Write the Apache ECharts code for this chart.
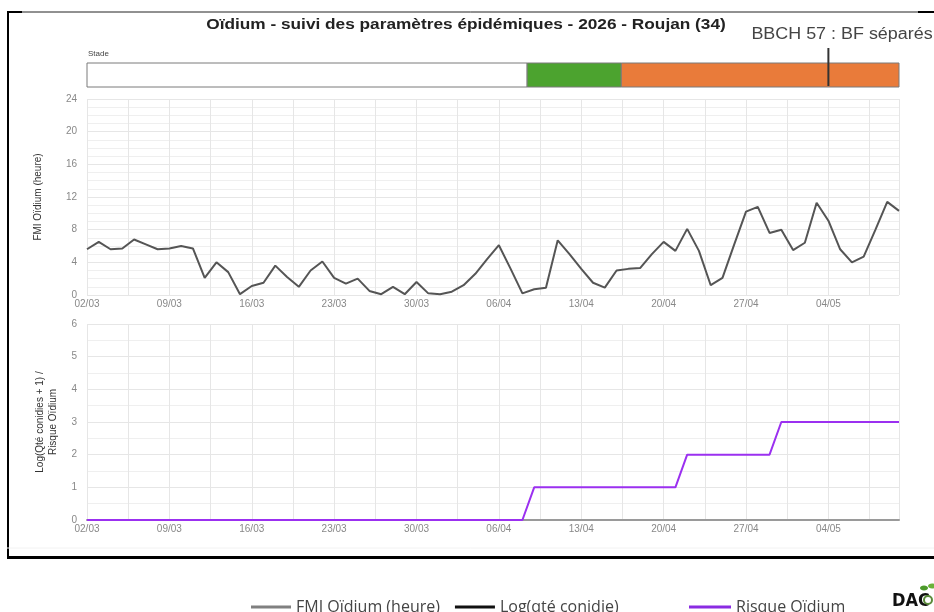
<!DOCTYPE html>
<html>
<head>
<meta charset="utf-8">
<script src="https://cdn.jsdelivr.net/npm/echarts@6/dist/echarts.min.js"></script>
<style>
  html, body { margin: 0; padding: 0; background: #fff; }
  #chart { width: 934px; height: 612px; }
</style>
</head>
<body>
<div id="chart"></div>
<script>
// ------------------------------ data ------------------------------
var firstDay = new Date(2026, 2, 2);
var nbDays = 70;
var dates = [];
for (var i = 0; i < nbDays; i++) {
    var d = new Date(firstDay.getFullYear(), firstDay.getMonth(), firstDay.getDate() + i);
    dates.push(('0' + d.getDate()).slice(-2) + '/' + ('0' + (d.getMonth() + 1)).slice(-2));
}

// FMI Oïdium (heure), one value per day from 02/03
var fmi = [5.6, 6.5, 5.6, 5.7, 6.8, 6.2, 5.6, 5.7, 6.0, 5.7,
           2.1, 4.0, 2.8, 0.1, 1.1, 1.5, 3.6, 2.2, 1.0, 3.0,
           4.1, 2.1, 1.4, 2.0, 0.5, 0.1, 1.0, 0.1, 1.6, 0.2,
           0.1, 0.4, 1.2, 2.6, 4.4, 6.1, 3.2, 0.2, 0.7, 0.9,
           6.7, 5.0, 3.2, 1.5, 0.9, 3.0, 3.2, 3.3, 5.0, 6.5,
           5.4, 8.1, 5.4, 1.2, 2.1, 6.2, 10.2, 10.8, 7.6, 8.0,
           5.5, 6.4, 11.3, 9.1, 5.6, 4.0, 4.7, 8.0, 11.4, 10.3];

// Log(qté conidie) : nothing drawn on the reference
var conidies = [];

// Risque Oïdium
var risque = [0, 0, 0, 0, 0, 0, 0, 0, 0, 0,
              0, 0, 0, 0, 0, 0, 0, 0, 0, 0,
              0, 0, 0, 0, 0, 0, 0, 0, 0, 0,
              0, 0, 0, 0, 0, 0, 0, 0, 1, 1,
              1, 1, 1, 1, 1, 1, 1, 1, 1, 1,
              1, 2, 2, 2, 2, 2, 2, 2, 2, 3,
              3, 3, 3, 3, 3, 3, 3, 3, 3, 3];

// stades phénologiques (en jours depuis 02/03)
var stadeDebut = [0, 37.4, 45.4];
var stadeFin = [37.4, 45.4, 69];
var stadeCouleur = ['#ffffff', '#4ca32f', '#e97b3a'];

// événements
var evtJour = [63];
var evtTexte = ['BBCH 57 : BF séparés'];

var fmiYTicks = [0, 24, 4];
var risqueYTicks = [0, 6, 1];

var titre = 'Oïdium - suivi des paramètres épidémiques - 2026 - Roujan (34)';

// ------------------------------ chart ------------------------------
var mychart = echarts.init(document.getElementById('chart'));
var font = 'Liberation Sans';

function xLabel(v) {
    return (v % 7 === 0 && dates[v]) ? dates[v] : '';
}

function xAxis(gridIndex, showLabels) {
    return {
        type: 'value', gridIndex: gridIndex, min: 0, max: nbDays - 1, interval: 3.5,
        axisLine: { show: gridIndex === 2, lineStyle: { color: '#9a9a9a', width: 2 } },
        axisTick: { show: false },
        axisLabel: { show: showLabels, formatter: xLabel, color: '#888', fontSize: 10, fontFamily: font, margin: 4, showMaxLabel: false },
        splitLine: { show: gridIndex !== 0, lineStyle: { color: '#e6e6e6' } }
    };
}

var legendText = { fontFamily: 'Open Sans', fontSize: 16, color: '#444' };

var option = {
    backgroundColor: '#fff',
    animation: false,
    legend: [{
        left: 246, top: 594, icon: 'rect', itemWidth: 40, itemHeight: 3, itemGap: 15,
        data: ['FMI Oïdium (heure)', 'Log(qté conidie)'],
        textStyle: legendText
    }, {
        left: 684, top: 594, icon: 'rect', itemWidth: 42, itemHeight: 3,
        data: ['Risque Oïdium'],
        textStyle: legendText
    }],
    grid: [
        { left: 87, right: 35, top: 63, height: 24 },
        { left: 87, right: 35, top: 99, height: 196 },
        { left: 87, right: 35, top: 324, height: 196 }
    ],
    xAxis: [xAxis(0, false), xAxis(1, true), xAxis(2, true)],
    yAxis: [
        { type: 'value', gridIndex: 0, min: 0, max: 1, show: false },
        {
            type: 'value', gridIndex: 1, min: fmiYTicks[0], max: fmiYTicks[1], interval: fmiYTicks[2],
            name: 'FMI Oïdium (heure)', nameLocation: 'middle', nameGap: 44,
            nameTextStyle: { fontFamily: font, fontSize: 10, color: '#333' },
            axisLine: { show: false }, axisTick: { show: false },
            axisLabel: { color: '#888', fontSize: 10, fontFamily: font, margin: 10 },
            splitLine: { lineStyle: { color: '#e6e6e6' } },
            minorTick: { show: false, splitNumber: 4 },
            minorSplitLine: { show: true, lineStyle: { color: '#efefef' } }
        },
        {
            type: 'value', gridIndex: 2, min: risqueYTicks[0], max: risqueYTicks[1], interval: risqueYTicks[2],
            name: 'Log(Qté conidies + 1) /\nRisque Oïdium', nameLocation: 'middle', nameGap: 27,
            nameTextStyle: { fontFamily: font, fontSize: 10, color: '#333', lineHeight: 13 },
            axisLine: { show: false }, axisTick: { show: false },
            axisLabel: { color: '#888', fontSize: 10, fontFamily: font, margin: 10 },
            splitLine: { lineStyle: { color: '#e6e6e6' } },
            minorTick: { show: false, splitNumber: 2 },
            minorSplitLine: { show: true, lineStyle: { color: '#efefef' } }
        }
    ],
    series: [
        {
            name: 'Stade', type: 'custom', xAxisIndex: 0, yAxisIndex: 0, silent: true,
            data: stadeDebut.map(function (s, i) { return [s, stadeFin[i], i]; }),
            renderItem: function (params, api) {
                var p0 = api.coord([api.value(0), 1]);
                var p1 = api.coord([api.value(1), 0]);
                return {
                    type: 'rect',
                    shape: { x: p0[0], y: p0[1], width: p1[0] - p0[0], height: p1[1] - p0[1] },
                    style: { fill: stadeCouleur[api.value(2)], stroke: '#7a7a7a', lineWidth: 1 }
                };
            }
        },
        {
            name: 'Evenement', type: 'custom', xAxisIndex: 0, yAxisIndex: 0, silent: true, z: 5,
            data: evtJour.map(function (j, i) { return [j, i]; }),
            renderItem: function (params, api) {
                var p = api.coord([api.value(0), 0]);
                return {
                    type: 'group',
                    children: [{
                        type: 'line',
                        shape: { x1: p[0], y1: p[1] - 1, x2: p[0], y2: p[1] - 39 },
                        style: { stroke: '#333', lineWidth: 2 }
                    }, {
                        type: 'text', x: p[0] - 77, y: p[1] - 52, scaleX: 1.12,
                        style: {
                            x: 0, y: 0, text: evtTexte[api.value(1)],
                            fill: '#444', font: '16px "Liberation Sans"', textVerticalAlign: 'middle'
                        }
                    }]
                };
            }
        },
        {
            name: 'FMI Oïdium (heure)', type: 'line', xAxisIndex: 1, yAxisIndex: 1,
            data: fmi.map(function (v, i) { return [i, v]; }),
            symbol: 'none', itemStyle: { color: '#808080' },
            lineStyle: { color: '#555', width: 2 }
        },
        {
            name: 'Log(qté conidie)', type: 'line', xAxisIndex: 2, yAxisIndex: 2,
            data: conidies, symbol: 'none', itemStyle: { color: '#111' },
            lineStyle: { color: '#111', width: 2 }
        },
        {
            name: 'Risque Oïdium', type: 'line', xAxisIndex: 2, yAxisIndex: 2,
            data: risque.map(function (v, i) { return [i, v]; }),
            symbol: 'none', itemStyle: { color: '#8a2be2' },
            lineStyle: { color: '#9b30f0', width: 2 }, z: 3
        }
    ],
    graphic: [
        // titre (texte un peu étiré comme sur l'original)
        { type: 'text', x: 466, y: 25, scaleX: 1.15,
          style: { x: 0, y: 0, text: titre, fill: '#222', font: 'bold 15px "Liberation Sans"', textAlign: 'center', textVerticalAlign: 'middle' } },
        { type: 'text', left: 88, top: 50, style: { text: 'Stade', fill: '#444', font: '8px "Liberation Sans"' } },
        // cadre
        { type: 'line', shape: { x1: 8, y1: 12, x2: 8, y2: 557 }, style: { stroke: '#000', lineWidth: 2 } },
        { type: 'line', shape: { x1: 7, y1: 12, x2: 934, y2: 12 }, style: { stroke: '#222', lineWidth: 1 } },
        { type: 'line', shape: { x1: 7, y1: 12, x2: 22, y2: 12 }, style: { stroke: '#000', lineWidth: 2 } },
        { type: 'line', shape: { x1: 918, y1: 12, x2: 934, y2: 12 }, style: { stroke: '#000', lineWidth: 2 } },
        { type: 'line', shape: { x1: 7, y1: 548, x2: 934, y2: 548 }, style: { stroke: '#f2f2f2', lineWidth: 1 } },
        { type: 'line', shape: { x1: 7, y1: 557.5, x2: 934, y2: 557.5 }, style: { stroke: '#000', lineWidth: 3 } },
        // logo
        { type: 'text', left: 892, top: 592, style: { text: 'DAC', fill: '#111', font: 'bold 18px "DejaVu Sans Condensed"' } },
        { type: 'circle', shape: { cx: 928, cy: 600, r: 4 }, style: { fill: '#fff', stroke: '#5a8a3a', lineWidth: 2 } },
        { type: 'ellipse', shape: { cx: 924, cy: 588, rx: 4, ry: 2.5 }, style: { fill: '#4c9a2a' } },
        { type: 'ellipse', shape: { cx: 932, cy: 586, rx: 4, ry: 2.5 }, style: { fill: '#6bb23a' } }
    ]
};
mychart.setOption(option);
</script>
</body>
</html>
